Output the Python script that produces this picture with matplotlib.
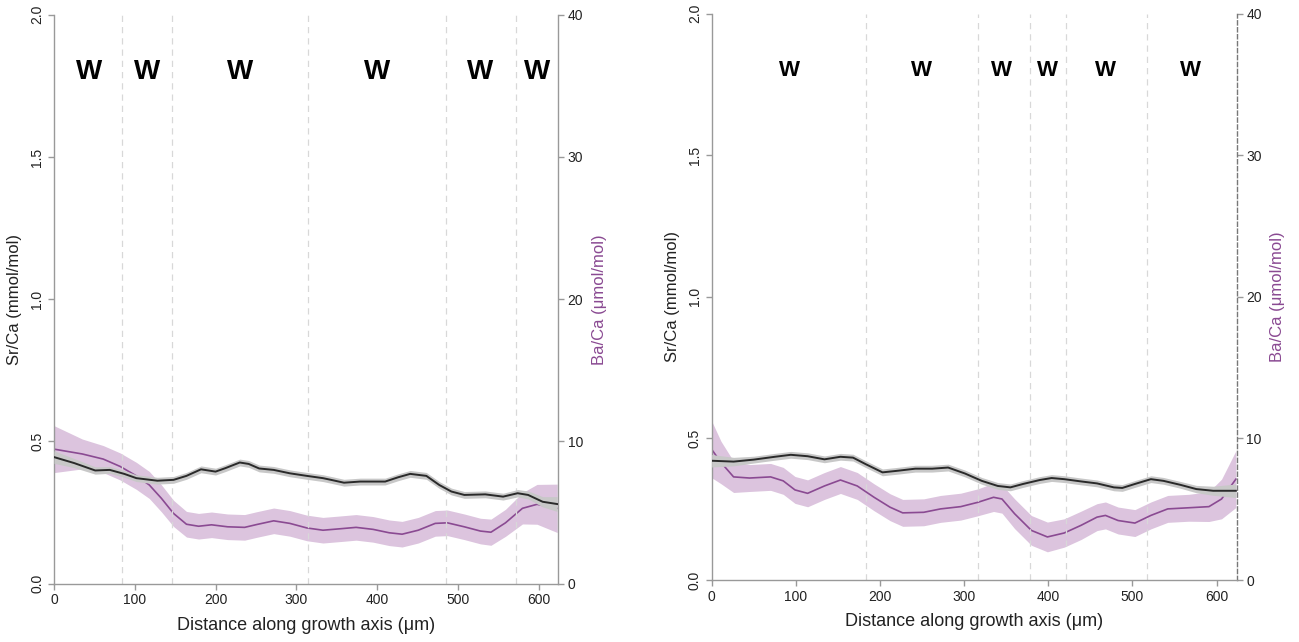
import matplotlib
matplotlib.use("Agg")
import matplotlib.pyplot as plt
import numpy as np

plt.rcParams['font.family'] = ['Liberation Sans', 'DejaVu Sans']

# ---- Panel A ----
a_sr_x = [0, 25, 51, 69, 87, 102, 128, 148, 164, 182, 200, 212, 230, 241, 254, 272, 292,
          313, 333, 343, 359, 379, 410, 426, 441, 461, 477, 492, 508, 534, 556, 574, 587, 605, 623]
a_sr = [0.445, 0.424, 0.398, 0.400, 0.386, 0.371, 0.362, 0.365, 0.379, 0.402, 0.394, 0.406,
        0.426, 0.421, 0.405, 0.400, 0.388, 0.379, 0.371, 0.365, 0.355, 0.359, 0.359, 0.374,
        0.386, 0.379, 0.347, 0.324, 0.312, 0.314, 0.306, 0.318, 0.312, 0.288, 0.280]
a_sr_err = [0.022, 0.016, 0.013, 0.012, 0.012, 0.012, 0.012, 0.012, 0.012, 0.012, 0.012, 0.012,
            0.012, 0.012, 0.012, 0.012, 0.012, 0.012, 0.012, 0.012, 0.012, 0.012, 0.012, 0.012,
            0.012, 0.012, 0.012, 0.012, 0.012, 0.012, 0.012, 0.013, 0.014, 0.018, 0.026]

a_ba_x = [0, 35, 61, 82, 102, 118, 133, 148, 164, 179, 195, 215, 236, 251, 272, 292, 313, 333,
          354, 374, 395, 415, 431, 451, 472, 487, 508, 528, 541, 559, 580, 598, 623]
a_ba = [9.46, 9.12, 8.76, 8.24, 7.58, 6.94, 6.00, 4.94, 4.18, 4.04, 4.14, 4.00, 3.96, 4.16, 4.42,
        4.24, 3.92, 3.76, 3.86, 3.96, 3.82, 3.58, 3.48, 3.76, 4.24, 4.28, 4.00, 3.70, 3.62, 4.28,
        5.30, 5.58, 5.30]
a_ba_err = [1.65, 1.05, 0.95, 0.95, 0.95, 0.95, 0.95, 0.92, 0.90, 0.90, 0.90, 0.90, 0.90, 0.90,
            0.90, 0.90, 0.90, 0.90, 0.90, 0.90, 0.90, 0.90, 0.90, 0.90, 0.90, 0.90, 0.90, 0.90,
            0.92, 0.95, 1.10, 1.40, 1.70]

a_bounds = [84, 146, 314, 485, 572]
a_w_x = [43, 115, 230, 400, 528, 598]

# ---- Panel B ----
b_sr_x = [0, 26, 50, 75, 94, 114, 134, 153, 168, 183, 203, 222, 242, 262, 281, 301, 321, 340,
          355, 370, 390, 404, 419, 439, 458, 478, 488, 503, 522, 537, 557, 576, 596, 623]
b_sr = [0.421, 0.418, 0.425, 0.435, 0.442, 0.437, 0.426, 0.435, 0.432, 0.409, 0.380, 0.386,
        0.393, 0.393, 0.397, 0.376, 0.350, 0.332, 0.327, 0.339, 0.353, 0.360, 0.356, 0.348,
        0.341, 0.327, 0.325, 0.339, 0.356, 0.350, 0.336, 0.321, 0.315, 0.315]
b_sr_err = [0.022, 0.015, 0.012, 0.012, 0.012, 0.012, 0.012, 0.012, 0.012, 0.012, 0.012, 0.012,
            0.012, 0.012, 0.012, 0.012, 0.012, 0.012, 0.012, 0.012, 0.012, 0.012, 0.012, 0.012,
            0.012, 0.012, 0.012, 0.012, 0.012, 0.012, 0.012, 0.013, 0.016, 0.024]

b_ba_x = [0, 11, 26, 45, 70, 85, 99, 114, 134, 153, 173, 193, 212, 227, 252, 272, 296, 316, 335,
          345, 360, 380, 399, 419, 439, 458, 468, 483, 503, 522, 542, 567, 591, 606, 623]
b_ba = [9.22, 8.30, 7.28, 7.20, 7.28, 7.00, 6.36, 6.12, 6.64, 7.06, 6.64, 5.84, 5.14, 4.74, 4.78,
        5.02, 5.18, 5.48, 5.84, 5.72, 4.68, 3.50, 3.04, 3.32, 3.86, 4.44, 4.56, 4.20, 4.02, 4.56,
        5.02, 5.10, 5.18, 5.72, 7.12]
b_ba_err = [2.00, 1.50, 1.10, 0.95, 0.95, 0.95, 0.95, 0.95, 0.95, 0.95, 0.95, 0.95, 0.95, 0.95,
            0.95, 0.95, 0.95, 0.95, 1.00, 1.00, 1.05, 1.05, 1.05, 1.00, 1.00, 0.95, 0.95, 0.95,
            0.95, 0.95, 0.95, 0.95, 1.05, 1.40, 2.00]

b_bounds = [183, 316, 378, 421, 517]
b_w_x = [92, 249, 345, 399, 468, 569]

x_ticks = [0, 100, 200, 300, 400, 500, 600]
sr_ticks = [0.0, 0.5, 1.0, 1.5, 2.0]
ba_ticks = [0, 10, 20, 30, 40]

PURPLE = '#8a4a92'
PURPLE_BAND = '#dcc4de'
SPINE = '#999999'
TXT = '#222222'

fig = plt.figure(figsize=(12.99, 6.42), dpi=100)


def draw_panel(rect, sr_x, sr, sr_err, ba_x, ba, ba_err, bounds, w_x, w_size, dashed_right):
    ax = fig.add_axes(rect)
    ax2 = ax.twinx()
    ax.set_zorder(ax2.get_zorder() + 1)
    ax.patch.set_visible(False)

    ax.set_xlim(0, 624)
    ax.set_ylim(0, 2.0)
    ax2.set_ylim(0, 40)

    for b in bounds:
        ax.axvline(b, color='#d8d8d8', lw=0.9, ls=(0, (5, 4)), zorder=0)

    ba = np.asarray(ba)
    ba_err = np.asarray(ba_err)
    ax2.fill_between(ba_x, ba - ba_err, ba + ba_err, color=PURPLE_BAND, lw=0, zorder=1)
    ax2.plot(ba_x, ba, color=PURPLE, lw=1.2, zorder=2, solid_joinstyle='round')

    sr = np.asarray(sr)
    sr_err = np.asarray(sr_err)
    ax.fill_between(sr_x, sr - sr_err, sr + sr_err, color='#c8c8c8', lw=0, zorder=3)
    ax.plot(sr_x, sr, color='#2a2a2a', lw=1.4, zorder=4, solid_joinstyle='round')

    for wx in w_x:
        ax.text(wx, 1.8, 'W', ha='center', va='center', fontsize=w_size,
                fontweight='bold', color='black', zorder=5)

    for a in (ax, ax2):
        a.spines['top'].set_visible(False)
        for s in ('left', 'right', 'bottom'):
            a.spines[s].set_color(SPINE)
            a.spines[s].set_linewidth(1.0)
    ax.spines['right'].set_visible(False)
    ax2.spines['left'].set_visible(False)
    ax2.spines['bottom'].set_visible(False)
    if dashed_right:
        ax2.spines['right'].set_color('#777777')
        ax2.spines['right'].set_linestyle((0, (3, 2)))

    ax.set_xticks(x_ticks)
    ax.set_xticklabels([str(t) for t in x_ticks])
    ax.set_yticks(sr_ticks)
    ax.set_yticklabels([f'{t:.1f}' for t in sr_ticks], rotation=90, va='center')
    ax2.set_yticks(ba_ticks)
    ax2.set_yticklabels([str(t) for t in ba_ticks])

    ax.tick_params(axis='both', colors=SPINE, labelcolor=TXT, labelsize=10,
                   length=4, width=1.0, direction='out', pad=3)
    ax2.tick_params(axis='y', colors=SPINE, labelcolor=TXT, labelsize=10,
                    length=4, width=1.0, direction='out', pad=3)

    ax.set_xlabel('Distance along growth axis (\u03bcm)', fontsize=13, color=TXT, labelpad=7)
    ax.set_ylabel('Sr/Ca (mmol/mol)', fontsize=12, color=TXT, labelpad=6)
    ax2.set_ylabel('Ba/Ca (\u03bcmol/mol)', fontsize=12, color=PURPLE, labelpad=6)
    return ax, ax2


draw_panel([54 / 1299, 58.3 / 642, 504 / 1299, 569 / 642],
           a_sr_x, a_sr, a_sr_err, a_ba_x, a_ba, a_ba_err, a_bounds, a_w_x, 20, False)
draw_panel([711.7 / 1299, 62 / 642, 525 / 1299, 566.5 / 642],
           b_sr_x, b_sr, b_sr_err, b_ba_x, b_ba, b_ba_err, b_bounds, b_w_x, 16, True)

fig.savefig('out.png', dpi=100)
